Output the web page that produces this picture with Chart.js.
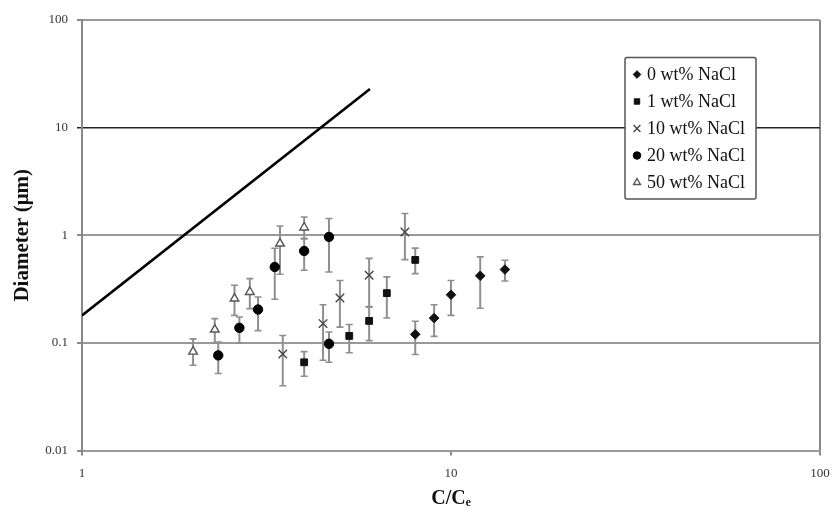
<!DOCTYPE html>
<html><head><meta charset="utf-8">
<script src="https://cdn.jsdelivr.net/npm/chart.js@4/dist/chart.umd.min.js"></script>
<style>html,body{margin:0;padding:0;background:#fff}#wrap{width:833px;height:512px}</style>
</head><body><div id="wrap"><canvas id="c" width="833" height="512"></canvas></div>
<script>
// ---- data ----
const xTickValues = [1, 10, 100];
const yTickValues = [0.01, 0.1, 1, 10, 100];
const seriesLabels = ['0 wt% NaCl', '1 wt% NaCl', '10 wt% NaCl', '20 wt% NaCl', '50 wt% NaCl'];

const x0 = [8.0, 9.0, 10.0, 12.0, 14.0];
const y0 = [0.12, 0.17, 0.28, 0.42, 0.48];
const lo0 = [0.078, 0.115, 0.18, 0.21, 0.376];
const hi0 = [0.159, 0.226, 0.38, 0.63, 0.586];

const x1 = [4.0, 5.3, 6.0, 6.7, 8.0];
const y1 = [0.066, 0.116, 0.16, 0.29, 0.59];
const lo1 = [0.049, 0.081, 0.105, 0.17, 0.44];
const hi1 = [0.083, 0.148, 0.218, 0.41, 0.76];

const x10 = [3.5, 4.5, 5.0, 6.0, 7.5];
const y10 = [0.079, 0.151, 0.261, 0.425, 1.07];
const lo10 = [0.040, 0.069, 0.14, 0.215, 0.594];
const hi10 = [0.117, 0.226, 0.38, 0.61, 1.59];

const x20 = [2.34, 2.67, 3.0, 3.33, 4.0, 4.67, 4.67];
const y20 = [0.0765, 0.138, 0.204, 0.507, 0.714, 0.965, 0.098];
const lo20 = [0.052, 0.10, 0.13, 0.254, 0.473, 0.456, 0.066];
const hi20 = [0.102, 0.174, 0.267, 0.757, 0.93, 1.43, 0.126];

const x50 = [2.0, 2.29, 2.59, 2.85, 3.44, 4.0];
const y50 = [0.083, 0.133, 0.258, 0.297, 0.837, 1.18];
const lo50 = [0.062, 0.10, 0.18, 0.208, 0.434, 0.93];
const hi50 = [0.109, 0.168, 0.343, 0.395, 1.22, 1.48];

const lineX = [1, 6.03];
const lineY = [0.18, 22.8];

// ---- build ----
const pts = (xs, ys) => xs.map((v, i) => ({x: v, y: ys[i]}));
const SERIF = "'Liberation Serif','Times New Roman',serif";

const datasets = [
  {label: seriesLabels[0], data: pts(x0, y0), errLow: lo0, errHigh: hi0, inLegend: true,
   pointStyle: 'rectRot', pointRadius: 4.8, backgroundColor: '#111', borderColor: '#111', borderWidth: 1},
  {label: seriesLabels[1], data: pts(x1, y1), errLow: lo1, errHigh: hi1, inLegend: true,
   pointStyle: 'rect', pointRadius: 4.8, backgroundColor: '#111', borderColor: '#111', borderWidth: 1},
  {label: seriesLabels[2], data: pts(x10, y10), errLow: lo10, errHigh: hi10, inLegend: true,
   pointStyle: 'crossRot', pointRadius: 6, backgroundColor: '#444', borderColor: '#444', borderWidth: 1.4},
  {label: seriesLabels[3], data: pts(x20, y20), errLow: lo20, errHigh: hi20, inLegend: true,
   pointStyle: 'circle', pointRadius: 4.7, backgroundColor: '#000', borderColor: '#000', borderWidth: 1},
  {label: seriesLabels[4], data: pts(x50, y50), errLow: lo50, errHigh: hi50, inLegend: true,
   pointStyle: 'triangle', pointRadius: 5, backgroundColor: '#fff', borderColor: '#555', borderWidth: 1.4},
  {label: 'model', data: pts(lineX, lineY), showLine: true, pointRadius: 0, borderColor: '#000',
   borderWidth: 2.6, fill: false, inLegend: false}
];

const errorBars = {
  id: 'errorBars',
  beforeDatasetsDraw(chart) {
    const ctx = chart.ctx, xs = chart.scales.x, ys = chart.scales.y;
    ctx.save();
    ctx.strokeStyle = '#8f8f8f';
    chart.data.datasets.forEach(ds => {
      if (!ds.errLow) return;
      ds.data.forEach((p, j) => {
        const px = xs.getPixelForValue(p.x);
        const pl = ys.getPixelForValue(ds.errLow[j]);
        const ph = ys.getPixelForValue(ds.errHigh[j]);
        ctx.lineWidth = 2;
        ctx.beginPath(); ctx.moveTo(px, pl); ctx.lineTo(px, ph); ctx.stroke();
        ctx.lineWidth = 1.6;
        ctx.beginPath();
        ctx.moveTo(px - 3.5, pl); ctx.lineTo(px + 3.5, pl);
        ctx.moveTo(px - 3.5, ph); ctx.lineTo(px + 3.5, ph);
        ctx.stroke();
      });
    });
    ctx.restore();
  }
};

const boxLegend = {
  id: 'boxLegend',
  afterDraw(chart) {
    const ctx = chart.ctx;
    ctx.save();
    ctx.fillStyle = '#fff'; ctx.strokeStyle = '#555'; ctx.lineWidth = 1.5;
    ctx.beginPath();
    if (ctx.roundRect) ctx.roundRect(625, 57.5, 131, 141.5, 2); else ctx.rect(625, 57.5, 131, 141.5);
    ctx.fill(); ctx.stroke();
    ctx.font = '18px ' + SERIF;
    ctx.textBaseline = 'middle'; ctx.textAlign = 'left';
    let k = 0;
    chart.data.datasets.forEach(ds => {
      if (!ds.inLegend) return;
      const y = 74.5 + k * 27;
      ctx.fillStyle = ds.backgroundColor; ctx.strokeStyle = ds.borderColor; ctx.lineWidth = ds.borderWidth;
      if (Chart.helpers && Chart.helpers.drawPoint) {
        Chart.helpers.drawPoint(ctx, {pointStyle: ds.pointStyle, radius: ds.pointRadius * 0.8, borderWidth: ds.borderWidth, rotation: 0}, 637, y);
      }
      ctx.fillStyle = '#111';
      ctx.fillText(ds.label, 647, y + 1);
      k++;
    });
    ctx.restore();
  }
};

new Chart(document.getElementById('c'), {
  type: 'scatter',
  data: {datasets},
  plugins: [errorBars, boxLegend],
  options: {
    responsive: false, devicePixelRatio: 1, animation: false,
    layout: {padding: {top: 20, right: 13, left: 0, bottom: 0}},
    plugins: {legend: {display: false}, tooltip: {enabled: false}},
    scales: {
      x: {
        type: 'logarithmic', min: 1, max: 100,
        afterBuildTicks: s => { s.ticks = xTickValues.map(v => ({value: v})); },
        afterFit: s => { s.height = 61.5; s.paddingLeft = 0; s.paddingRight = 0; },
        ticks: {callback: v => String(v), color: '#333', font: {family: SERIF, size: 13}, padding: 10, maxRotation: 0, autoSkip: false},
        grid: {
          drawOnChartArea: true, drawTicks: true, tickLength: 5,
          color: c => (c.tick && c.tick.value === 100) ? '#888' : 'rgba(0,0,0,0)',
          tickColor: '#888', lineWidth: 2
        },
        border: {color: '#999', width: 2},
        title: {display: true, text: 'C/Cₑ', color: '#111', font: {family: SERIF, size: 20, weight: 'bold'}, padding: {top: 0, bottom: 1}}
      },
      y: {
        type: 'logarithmic', min: 0.01, max: 100,
        afterBuildTicks: s => { s.ticks = yTickValues.map(v => ({value: v})); },
        afterFit: s => { s.width = 82; s.paddingTop = 0; s.paddingBottom = 0; },
        ticks: {callback: v => String(v), color: '#333', font: {family: SERIF, size: 13}, padding: 9, autoSkip: false},
        grid: {
          z: -1, tickLength: 5,
          color: c => (c.tick && c.tick.value === 10) ? '#222' : '#999',
          tickColor: c => (c.tick && c.tick.value === 10) ? '#222' : '#888',
          lineWidth: c => (c.tick && c.tick.value === 10) ? 1.5 : 2
        },
        border: {color: '#888', width: 2},
        title: {display: true, text: 'Diameter (μm)', color: '#111', font: {family: SERIF, size: 21, weight: 'bold'}, padding: {top: 10, bottom: 0}}
      }
    }
  }
});
</script>
</body></html>
